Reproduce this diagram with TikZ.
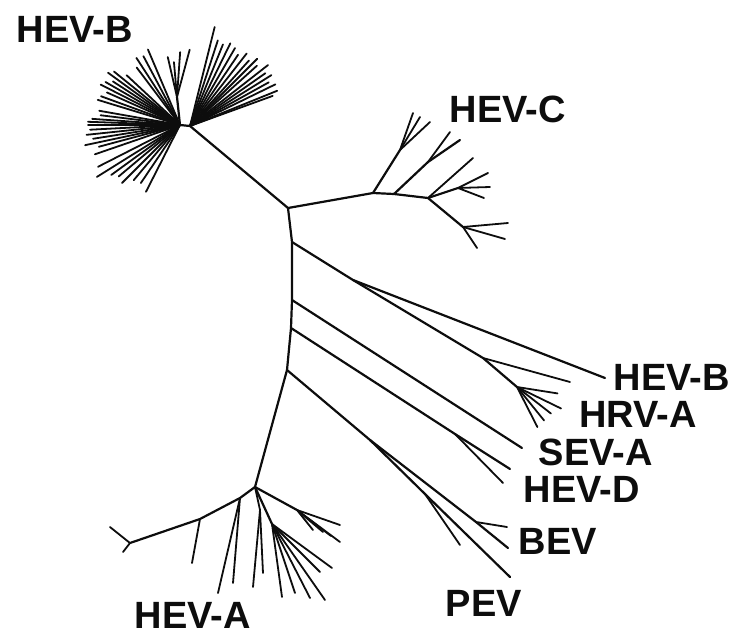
\documentclass[tikz,border=0pt]{standalone}
\usepackage{fontspec}
\setmainfont{Liberation Sans}
\usepackage{tikz}

\begin{document}
\begin{tikzpicture}[x=1pt,y=-1pt]

\definecolor{treeink}{rgb}{0.05, 0.05, 0.05}

\tikzset{
  branch/.style={treeink, line width=2.2pt, line cap=round, line join=round},
  leaf/.style={treeink, line width=1.8pt, line cap=round},
  clade/.style={treeink, inner sep=0pt, font=\bfseries\fontsize{38}{38}\selectfont}
}

\newcommand{\LeafFan}[2]{%
  \foreach \a/\l in {#2} {
    \draw[leaf] (#1) -- ++({-\a}:\l);
  }%
}

\useasboundingbox (0,0) rectangle (734,635);

% backbone
\coordinate (jC) at (288,208);
\coordinate (j1) at (292,242);
\coordinate (j2) at (292,300);
\coordinate (j3) at (291,328);
\coordinate (j4) at (287,370);
\coordinate (aRoot) at (255,487);

\draw[branch] (jC) -- (j1) -- (j2) -- (j3) -- (j4) -- (aRoot);

% HEV-B, top left
\coordinate (bR) at (190,126);
\coordinate (bL) at (180,125);
\coordinate (bTop) at (177,97);

\draw[branch] (jC) -- (bR) -- (bL) -- (bTop);
\LeafFan{bL}{113/82,118/78,123/80,127/72,137/73,141/85,144/89,147/80,150/86,
  153/89,156/80,160/84,163/86,170/82,173/80,176/88,178/92,180/92,183/90,186/94,
  189/88,192/97,195/84,199/90,207/92,212/98,216/85,220/80,225/82,230/72,236/70,243/75}
\LeafFan{bR}{20/88,22/94,26/95,29/90,32/96,35/92,38/99,42/90,45/95,48/88,52/92,56/86,
  60/90,64/92,68/88,72/90,76/102}
\LeafFan{bTop}{75/49,86/45,95/35,103/41}

% HEV-C
\coordinate (c1) at (373,193);
\coordinate (c2) at (394,194);
\coordinate (c3) at (428,198);
\coordinate (c4) at (463,227);
\coordinate (cTop) at (400,150);
\coordinate (cMid) at (428,162);
\coordinate (cSub) at (458,188);

\draw[branch] (jC) -- (c1) -- (c2) -- (c3) -- (c4);
\draw[branch] (c1) -- (cTop);
\draw[leaf] (cTop) -- (413,113);
\draw[leaf] (cTop) -- (420,117);
\draw[leaf] (cTop) -- (430,122);
\draw[branch] (c2) -- (cMid) -- (460,140);
\draw[leaf] (cMid) -- (450,132);
\draw[leaf] (c3) -- (473,158);
\draw[branch] (c3) -- (cSub);
\draw[leaf] (cSub) -- (488,173);
\draw[leaf] (cSub) -- (490,187);
\draw[leaf] (cSub) -- (484,198);
\draw[leaf] (c4) -- (508,223);
\draw[leaf] (c4) -- (505,239);
\draw[leaf] (c4) -- (477,248);

% HEV-B and HRV-A
\coordinate (hb) at (353,280);
\coordinate (hr) at (483,358);
\coordinate (hrc) at (517,387);

\draw[branch] (j1) -- (hb) -- (605,378);
\draw[branch] (hb) -- (hr) -- (hrc);
\draw[leaf] (hr) -- (570,382);
\LeafFan{hrc}{-9/41,-26/49,-38/43,-51/43,-63/45}

% SEV-A, HEV-D
\coordinate (hd) at (455,434);

\draw[branch] (j2) -- (522,448);
\draw[branch] (j3) -- (hd) -- (510,469);
\draw[leaf] (hd) -- (503,483);

% BEV, PEV
\coordinate (pb) at (370,440);
\coordinate (bv) at (476,522);
\coordinate (pv) at (425,494);

\draw[branch] (j4) -- (pb) -- (bv) -- (508,548);
\draw[leaf] (bv) -- (507,527);
\draw[branch] (pb) -- (pv) -- (510,577);
\draw[leaf] (pv) -- (460,545);

% HEV-A
\coordinate (a1) at (240,498);
\coordinate (a2) at (200,519);
\coordinate (a3) at (130,543);
\coordinate (aUp) at (297,510);
\coordinate (aLow) at (272,524);
\coordinate (aMid) at (260,510);

\draw[branch] (aRoot) -- (a1) -- (a2) -- (a3);
\draw[leaf] (a1) -- (218,593);
\draw[leaf] (a1) -- (233,583);
\draw[leaf] (a2) -- (192,563);
\draw[leaf] (a3) -- (110,527);
\draw[leaf] (a3) -- (123,552);
\draw[branch] (aRoot) -- (aUp);
\draw[leaf] (aUp) -- (340,525);
\draw[leaf] (aUp) -- (340,542);
\draw[leaf] (aUp) -- (313,530);
\draw[leaf] (aUp) -- (323,532);
\draw[leaf] (aUp) -- (331,536);
\draw[branch] (aRoot) -- (aLow);
\draw[leaf] (aLow) -- (282,597);
\draw[leaf] (aLow) -- (295,593);
\draw[leaf] (aLow) -- (310,598);
\draw[leaf] (aLow) -- (325,600);
\draw[leaf] (aLow) -- (332,568);
\draw[leaf] (aLow) -- (320,572);
\draw[leaf] (aRoot) -- (aMid);
\draw[leaf] (aMid) -- (263,573);
\draw[leaf] (aMid) -- (253,587);

% labels
\node[clade] (lHEVBtop) at (75,29) {HEV-B};
\node[clade] (lHEVC) at (508,109) {HEV-C};
\node[clade] (lHEVB) at (672,377) {HEV-B};
\node[clade] (lHRVA) at (638,414) {HRV-A};
\node[clade] (lSEVA) at (596,452) {SEV-A};
\node[clade] (lHEVD) at (582,489) {HEV-D};
\node[clade] (lBEV) at (558,541) {BEV};
\node[clade] (lPEV) at (484,603) {PEV};
\node[clade] (lHEVA) at (193,615) {HEV-A};

\end{tikzpicture}
\end{document}
